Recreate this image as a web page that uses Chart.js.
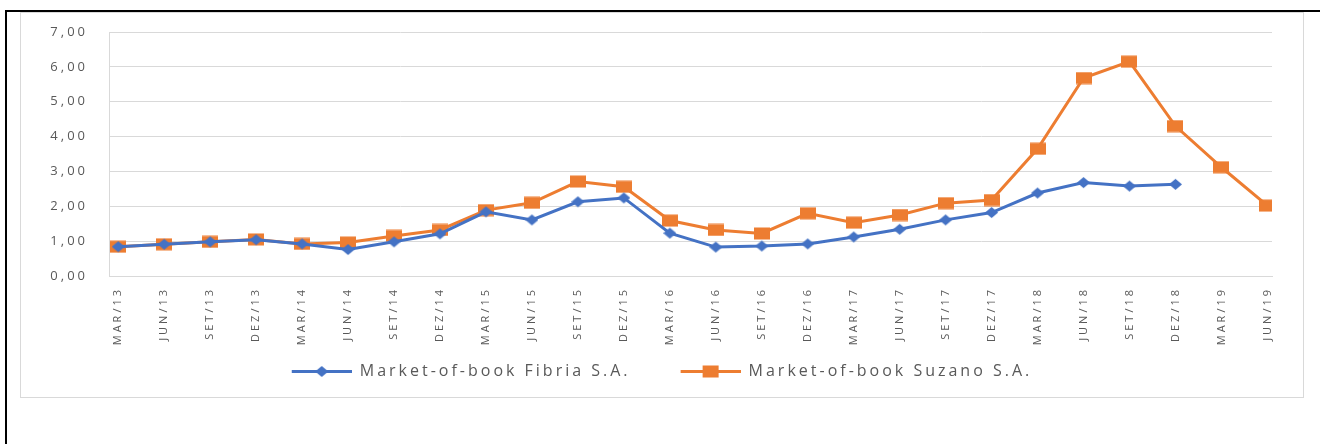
<!DOCTYPE html>
<html>
<head>
<meta charset="utf-8">
<script src="https://cdn.jsdelivr.net/npm/chart.js@4/dist/chart.umd.min.js"></script>
<style>
  body { margin: 0; background: #fff; }
  #frame { position: absolute; left: 5px; top: 10px; width: 1315px; height: 434px;
           border-top: 2px solid #000; border-left: 2px solid #000; box-sizing: border-box; }
  #box { position: absolute; left: 20px; top: 12px; width: 1284px; height: 386px;
         border: 1px solid #d9d9d9; box-sizing: border-box; }
  #chartMob { position: absolute; left: 0; top: 0; }
</style>
</head>
<body>
<div id="frame"></div>
<div id="box"></div>
<canvas id="chartMob" width="1320" height="444"></canvas>
<script>
var categories = ['MAR/13','JUN/13','SET/13','DEZ/13','MAR/14','JUN/14','SET/14','DEZ/14',
                  'MAR/15','JUN/15','SET/15','DEZ/15','MAR/16','JUN/16','SET/16','DEZ/16',
                  'MAR/17','JUN/17','SET/17','DEZ/17','MAR/18','JUN/18','SET/18','DEZ/18',
                  'MAR/19','JUN/19'];
var fibria = [0.84, 0.91, 0.98, 1.04, 0.92, 0.76, 0.98, 1.21, 1.84, 1.61, 2.13, 2.24,
              1.23, 0.83, 0.86, 0.92, 1.12, 1.34, 1.61, 1.82, 2.38, 2.68, 2.58, 2.63];
var suzano = [0.84, 0.91, 0.98, 1.05, 0.92, 0.96, 1.15, 1.32, 1.89, 2.10, 2.71, 2.56,
              1.59, 1.32, 1.22, 1.80, 1.53, 1.75, 2.09, 2.18, 3.65, 5.68, 6.15, 4.30,
              3.12, 2.02];
var yTicks = [0, 1, 2, 3, 4, 5, 6, 7];
var seriesNames = ['Market-of-book Fibria S.A.', 'Market-of-book Suzano S.A.'];

var blue = '#4472C4';
var orange = '#ED7D31';

function points(values) {
    return values.map(function (v, i) { return {x: i, y: v}; });
}

// marker images (diamond / rectangle); with a width they become the legend icon
// (blank lead-in on the left keeps the gap between the two legend entries)
function marker(kind, color, iconWidth) {
    var c = document.createElement('canvas');
    c.width = iconWidth || (kind === 'diamond' ? 13 : 16);
    c.height = 13;
    var g = c.getContext('2d');
    var x0 = iconWidth ? iconWidth - 60 : 0;
    var cx = iconWidth ? x0 + 30 : c.width / 2, cy = c.height / 2;
    if (iconWidth) {
        g.strokeStyle = color;
        g.lineWidth = 3;
        g.beginPath();
        g.moveTo(x0, cy);
        g.lineTo(c.width, cy);
        g.stroke();
    }
    g.fillStyle = color;
    g.beginPath();
    if (kind === 'diamond') {
        g.moveTo(cx, cy - 5.5);
        g.lineTo(cx + 6.5, cy);
        g.lineTo(cx, cy + 5.5);
        g.lineTo(cx - 6.5, cy);
        g.closePath();
        g.fill();
    } else {
        g.fillRect(cx - 8, cy - 6, 16, 12);
    }
    return c;
}

var legendIcons = [marker('diamond', blue, 100), marker('rect', orange, 100)];

var spacing = {
    id: 'spacing',
    beforeUpdate: function (chart) { chart.ctx.letterSpacing = '3px'; },
    beforeDraw: function (chart) { chart.ctx.letterSpacing = '3px'; }
};

Chart.defaults.font.family = '"Open Sans", sans-serif';
Chart.defaults.color = '#595959';

var ctx = document.getElementById('chartMob');
var myChart = new Chart(ctx, {
    type: 'line',
    data: {
        datasets: [{
            label: seriesNames[0],
            data: points(fibria),
            borderColor: blue,
            backgroundColor: blue,
            borderWidth: 3,
            pointStyle: marker('diamond', blue),
            tension: 0
        }, {
            label: seriesNames[1],
            data: points(suzano),
            borderColor: orange,
            backgroundColor: orange,
            borderWidth: 3,
            pointStyle: marker('rect', orange),
            tension: 0
        }]
    },
    options: {
        responsive: false,
        animation: false,
        layout: { padding: { left: 12, right: 48, top: 32, bottom: 54.5 } },
        scales: {
            x: {
                type: 'linear',
                min: -0.2,
                max: 25.1,
                afterBuildTicks: function (s) {
                    s.ticks = categories.map(function (c, i) { return {value: i}; });
                },
                afterFit: function (s) { s.height = 77.5; },
                grid: { display: false, drawTicks: false },
                border: { display: true, color: '#d9d9d9' },
                ticks: {
                    minRotation: 90,
                    maxRotation: 90,
                    autoSkip: false,
                    padding: 11,
                    font: { size: 11 },
                    callback: function (v) { return categories[v]; }
                }
            },
            y: {
                min: 0,
                max: 7,
                afterBuildTicks: function (s) {
                    s.ticks = yTicks.map(function (v) { return {value: v}; });
                },
                afterFit: function (s) { s.width = 97; },
                grid: { color: '#d9d9d9', drawTicks: false },
                border: { display: true, color: '#d9d9d9' },
                ticks: {
                    padding: 21,
                    font: { size: 13 },
                    callback: function (v) { return v.toFixed(2).replace('.', ','); }
                }
            }
        },
        plugins: {
            tooltip: { enabled: false },
            legend: {
                position: 'bottom',
                labels: {
                    usePointStyle: true,
                    pointStyleWidth: 100,
                    padding: 10,
                    font: { size: 16 },
                    generateLabels: function (chart) {
                        var items = Chart.defaults.plugins.legend.labels.generateLabels(chart);
                        items.forEach(function (it, i) { it.pointStyle = legendIcons[i]; });
                        return items;
                    }
                }
            }
        }
    },
    plugins: [spacing]
});
</script>
</body>
</html>
